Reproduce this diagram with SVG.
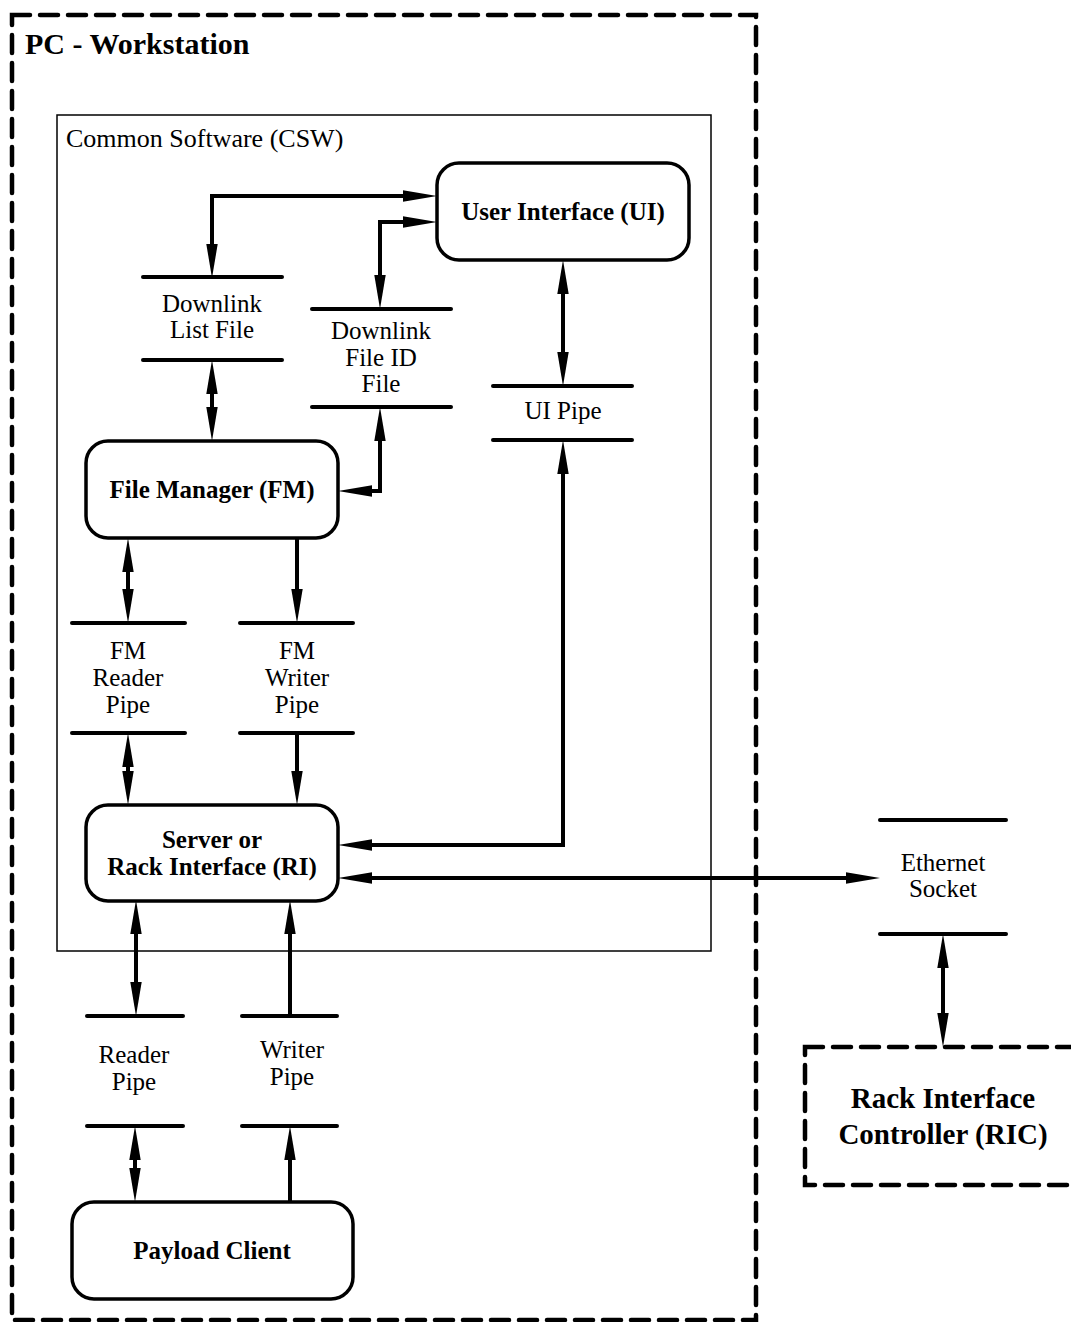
<svg xmlns="http://www.w3.org/2000/svg" width="1071" height="1322" viewBox="0 0 1071 1322">
  <style>
    .t { font-family: "Liberation Serif", "Times New Roman", serif; font-size: 25px; fill: #000; text-anchor: middle; }
    .b { font-family: "Liberation Serif", "Times New Roman", serif; font-size: 25px; font-weight: bold; fill: #000; text-anchor: middle; }
    .box { fill: #fff; stroke: #000; stroke-width: 3.5; }
    .pipe { stroke: #000; stroke-width: 4; stroke-linecap: round; }
    .dash { fill: none; stroke: #000; stroke-width: 4.5; stroke-dasharray: 18 10; stroke-linecap: round; }
    .c { fill: none; stroke: #000; stroke-width: 4; }
    .c2 { marker-start: url(#ah); marker-end: url(#ah); }
    .c1 { marker-end: url(#ah); }
  </style>
  <defs>
    <marker id="ah" markerUnits="userSpaceOnUse" markerWidth="34" markerHeight="12" refX="22" refY="6" orient="auto-start-reverse" viewBox="0 0 34 12">
      <path d="M0,0.3 L34,6 L0,11.7 z" fill="#000"/>
    </marker>
  </defs>
  <rect width="1071" height="1322" fill="#fff"/>

  <g id="pc-workstation">
    <rect class="dash" x="12" y="15" width="744" height="1305"/>
    <text class="b" x="25" y="54" style="text-anchor:start;font-size:30px">PC - Workstation</text>
  </g>

  <g id="csw">
    <rect x="57" y="115" width="654" height="836" fill="none" stroke="#000" stroke-width="1.5"/>
    <text class="t" x="66" y="147" style="text-anchor:start;font-size:26px">Common Software (CSW)</text>
  </g>

  <g id="connectors">
    <path class="c c2" d="M212,266 V196 H425"/>
    <path class="c c2" d="M380,297 V222 H425"/>
    <path class="c c2" d="M563,272 V374"/>
    <path class="c c2" d="M212,372 V429"/>
    <path class="c c2" d="M380,419 V491 H350"/>
    <path class="c c2" d="M128,550 V611"/>
    <path class="c c1" d="M297,538 V611"/>
    <path class="c c2" d="M128,745 V793"/>
    <path class="c c1" d="M297,733 V793"/>
    <path class="c c2" d="M563,452 V845 H350"/>
    <path class="c c2" d="M350,878 H868"/>
    <path class="c c2" d="M943,946 V1035"/>
    <path class="c c2" d="M136,912 V1004"/>
    <path class="c c1" d="M290,1016 V912"/>
    <path class="c c2" d="M135,1138 V1190"/>
    <path class="c c1" d="M290,1202 V1138"/>
  </g>

  <g id="ui">
    <rect class="box" x="437" y="163" width="252" height="97" rx="22"/>
    <text class="b" x="563" y="220">User Interface (UI)</text>
  </g>

  <g id="downlink-list-file">
    <line class="pipe" x1="143" y1="277" x2="282" y2="277"/>
    <line class="pipe" x1="143" y1="360" x2="282" y2="360"/>
    <text class="t" x="212" y="312">Downlink</text>
    <text class="t" x="212" y="338">List File</text>
  </g>

  <g id="downlink-file-id-file">
    <line class="pipe" x1="312" y1="309" x2="451" y2="309"/>
    <line class="pipe" x1="312" y1="407" x2="451" y2="407"/>
    <text class="t" x="381" y="339">Downlink</text>
    <text class="t" x="381" y="366">File ID</text>
    <text class="t" x="381" y="392">File</text>
  </g>

  <g id="ui-pipe">
    <line class="pipe" x1="493" y1="386" x2="632" y2="386"/>
    <line class="pipe" x1="493" y1="440" x2="632" y2="440"/>
    <text class="t" x="563" y="419">UI Pipe</text>
  </g>

  <g id="fm">
    <rect class="box" x="86" y="441" width="252" height="97" rx="22"/>
    <text class="b" x="212" y="498">File Manager (FM)</text>
  </g>

  <g id="fm-reader-pipe">
    <line class="pipe" x1="72" y1="623" x2="185" y2="623"/>
    <line class="pipe" x1="72" y1="733" x2="185" y2="733"/>
    <text class="t" x="128" y="659">FM</text>
    <text class="t" x="128" y="686">Reader</text>
    <text class="t" x="128" y="713">Pipe</text>
  </g>

  <g id="fm-writer-pipe">
    <line class="pipe" x1="240" y1="623" x2="353" y2="623"/>
    <line class="pipe" x1="240" y1="733" x2="353" y2="733"/>
    <text class="t" x="297" y="659">FM</text>
    <text class="t" x="297" y="686">Writer</text>
    <text class="t" x="297" y="713">Pipe</text>
  </g>

  <g id="ri">
    <rect class="box" x="86" y="805" width="252" height="96" rx="22"/>
    <text class="b" x="212" y="848">Server or</text>
    <text class="b" x="212" y="875">Rack Interface (RI)</text>
  </g>

  <g id="ethernet-socket">
    <line class="pipe" x1="880" y1="820" x2="1006" y2="820"/>
    <line class="pipe" x1="880" y1="934" x2="1006" y2="934"/>
    <text class="t" x="943" y="871">Ethernet</text>
    <text class="t" x="943" y="897">Socket</text>
  </g>

  <g id="ric">
    <rect class="dash" x="805" y="1047" width="300" height="138"/>
    <text class="b" x="943" y="1108" style="font-size:29px">Rack Interface</text>
    <text class="b" x="943" y="1144" style="font-size:29px">Controller (RIC)</text>
  </g>

  <g id="reader-pipe">
    <line class="pipe" x1="87" y1="1016" x2="183" y2="1016"/>
    <line class="pipe" x1="87" y1="1126" x2="183" y2="1126"/>
    <text class="t" x="134" y="1063">Reader</text>
    <text class="t" x="134" y="1090">Pipe</text>
  </g>

  <g id="writer-pipe">
    <line class="pipe" x1="242" y1="1016" x2="337" y2="1016"/>
    <line class="pipe" x1="242" y1="1126" x2="337" y2="1126"/>
    <text class="t" x="292" y="1058">Writer</text>
    <text class="t" x="292" y="1085">Pipe</text>
  </g>

  <g id="payload-client">
    <rect class="box" x="72" y="1202" width="281" height="97" rx="22"/>
    <text class="b" x="212" y="1259">Payload Client</text>
  </g>
</svg>
